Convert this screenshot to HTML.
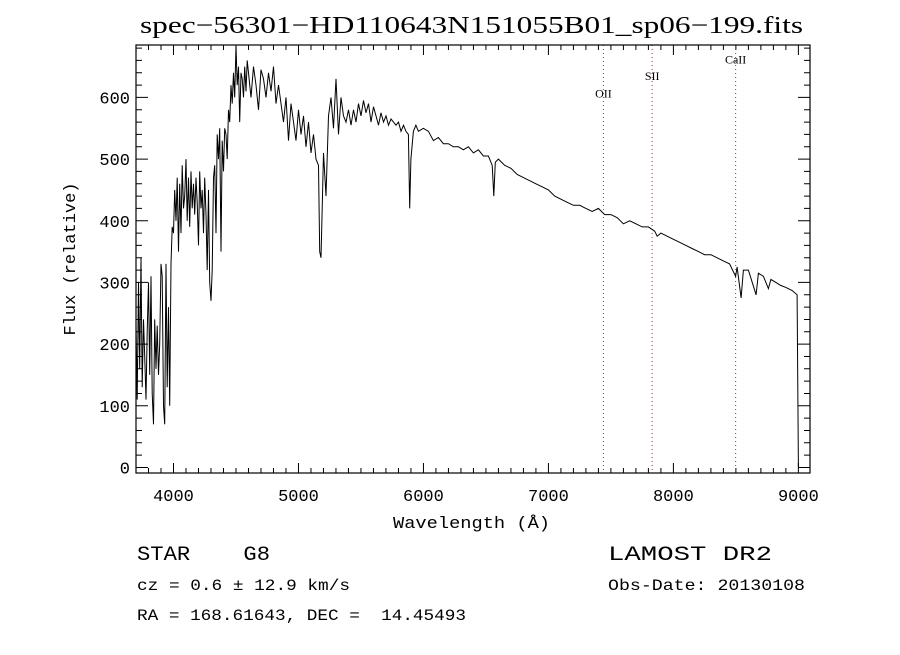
<!DOCTYPE html>
<html><head><meta charset="utf-8"><style>
body{margin:0;background:#fff;width:900px;height:650px;overflow:hidden}
.sf{font-family:"Liberation Serif",serif;fill:#000}
.mf{font-family:"Liberation Mono",monospace;fill:#000}
</style></head><body>
<svg id="chart" width="900" height="650" viewBox="0 0 900 650" xmlns="http://www.w3.org/2000/svg">
<rect width="900" height="650" fill="#fff"/>
<text class="sf" x="140" y="33" font-size="24" textLength="663" lengthAdjust="spacingAndGlyphs">spec−56301−HD110643N151055B01_sp06−199.fits</text>
<g id="axes"></g>
<g id="lines"></g>
<path id="spec" fill="none" stroke="#000" stroke-width="1"/>
<rect x="136" y="45" width="674" height="428" fill="none" stroke="#000" stroke-width="1.2"/>
<text class="mf" x="393" y="528" font-size="17" textLength="157" lengthAdjust="spacingAndGlyphs">Wavelength (Å)</text>
<text class="mf" transform="translate(75,259) rotate(-90)" font-size="17" text-anchor="middle">Flux (relative)</text>
<text class="mf" x="137" y="560" font-size="20" textLength="133" lengthAdjust="spacingAndGlyphs" xml:space="preserve">STAR    G8</text>
<text class="mf" x="137" y="590" font-size="16" textLength="213" lengthAdjust="spacingAndGlyphs">cz = 0.6 ± 12.9 km/s</text>
<text class="mf" x="137" y="620" font-size="16" textLength="329" lengthAdjust="spacingAndGlyphs" xml:space="preserve">RA = 168.61643, DEC =  14.45493</text>
<text class="mf" x="608" y="560" font-size="20" textLength="164" lengthAdjust="spacingAndGlyphs">LAMOST DR2</text>
<text class="mf" x="608" y="590" font-size="16" textLength="197" lengthAdjust="spacingAndGlyphs">Obs-Date: 20130108</text>
</svg>
<script>
const wavelengths=[3700,3710,3720,3730,3740,3750,3760,3770,3780,3790,3800,3810,3820,3830,3840,3850,3860,3870,3880,3890,3900,3910,3920,3930,3940,3950,3960,3970,3980,3990,4000,
4010,4020,4030,4040,4050,4060,4070,4080,4090,4100,4110,4120,4130,4140,4150,4160,4170,4180,4190,4200,4210,4220,4230,4240,4250,4260,4270,4280,4290,4300,4310,4320,4330,4340,4350,4360,4370,4380,4390,4400,4410,4420,4430,4440,4450,4460,4470,4480,4490,4500,4510,4520,4530,4540,4550,4560,4570,4580,4590,4600,4620,4640,4660,4680,4700,4720,4740,4760,4780,4800,4820,4840,4860,4880,4900,4920,4940,4960,4980,5000,5020,5040,5060,5080,5100,5120,5140,5160,5170,5180,5190,5200,5220,5240,5260,5280,5300,5320,5340,5360,5380,5400,5420,5440,5460,5480,5500,5520,5540,5560,5580,5600,5620,5640,5660,5680,5700,5720,5740,5760,5780,5800,5820,5840,5860,5880,5890,5900,5920,5940,5960,6000,6040,6080,6120,6160,6200,6240,6280,6320,6360,6400,6440,6480,6520,6550,6563,6575,6600,6650,6700,6750,6800,6850,6900,6950,7000,7050,7100,7150,7200,7250,7300,7350,7400,7450,7500,7550,7600,7650,7700,7750,7800,7850,7870,7900,7950,8000,8050,8100,8150,8200,8250,8300,8350,8400,8450,8498,8510,8542,8560,8600,8662,8680,8720,8760,8780,8820,8860,8900,8950,8990,9000];
const fluxes=[230,110,300,160,340,130,240,180,110,220,300,150,310,120,70,240,160,230,150,200,330,310,100,70,330,130,260,100,330,390,380,
450,400,470,350,460,380,490,420,440,500,400,470,390,480,420,460,410,470,430,360,480,420,450,380,470,410,320,450,300,270,320,470,490,380,540,500,550,350,530,480,550,540,500,580,560,620,590,640,600,685,620,650,560,640,630,600,650,610,660,640,600,650,620,580,645,630,600,640,610,650,590,620,590,560,600,530,590,560,530,580,540,570,520,560,510,540,500,490,350,340,420,510,440,570,600,550,630,540,600,570,560,580,555,580,560,590,570,595,575,590,560,585,570,555,575,560,570,555,565,560,555,560,545,555,545,540,420,500,545,555,545,550,545,530,535,525,525,520,520,515,520,510,515,505,505,490,440,495,500,490,485,475,470,465,460,455,450,440,435,430,425,425,420,415,420,410,410,405,395,400,395,390,390,383,375,380,375,370,365,360,355,350,345,345,340,335,330,310,325,275,320,320,280,315,310,290,305,300,295,292,287,280,0];
const xTicks=[4000,5000,6000,7000,8000,9000];
const yTicks=[0,100,200,300,400,500,600];
const lineNames=["OII","SII","CaII"];
const lineWaves=[7440,7830,8498];
const lineLabelFlux=[600,628,655];

const X0=136,X1=810,Y0=473,Y1=45,WMIN=3700,WMAX=9093,FMIN=-9,FMAX=685;
const xs=w=>X0+(w-WMIN)/(WMAX-WMIN)*(X1-X0);
const ys=f=>Y0-(f-FMIN)/(FMAX-FMIN)*(Y0-Y1);
const NS="http://www.w3.org/2000/svg";
function mk(tag,attrs,parent){const e=document.createElementNS(NS,tag);for(const k in attrs)e.setAttribute(k,attrs[k]);parent.appendChild(e);return e;}
const axes=document.getElementById('axes');
let d="";
for(let w=3800;w<=9000;w+=100){const x=xs(w);const L=(w%1000===0)?10:5;d+=`M${x},${Y0}v${-L}M${x},${Y1}v${L}`;}
for(let f=0;f<=680;f+=20){const y=ys(f);const L=(f%100===0)?12:6;d+=`M${X0},${y}h${L}M${X1},${y}h${-L}`;}
const tk=mk('path',{d:d,stroke:'#000','stroke-width':1,fill:'none'},axes);


xTicks.forEach(w=>{const t=mk('text',{class:'mf',x:xs(w),y:501,'font-size':17,'text-anchor':'middle'},axes);t.textContent=w;

});
yTicks.forEach(f=>{const t=mk('text',{class:'mf',x:130,y:ys(f)+6,'font-size':17,'text-anchor':'end'},axes);t.textContent=f;

});
const lg=document.getElementById('lines');
lineWaves.forEach((w,i)=>{const l=mk('line',{x1:xs(w),x2:xs(w),y1:Y1,y2:Y0,stroke:'#8b3a3a','stroke-width':1,'stroke-dasharray':'1,3'},lg);


const t=mk('text',{class:'sf',x:xs(w),y:ys(lineLabelFlux[i]),'font-size':12,'text-anchor':'middle'},lg);t.textContent=lineNames[i];

});
let p="";
wavelengths.forEach((w,i)=>{p+=(i?"L":"M")+xs(w).toFixed(1)+","+ys(fluxes[i]).toFixed(1);});
document.getElementById('spec').setAttribute('d',p);
</script>
</body></html>
